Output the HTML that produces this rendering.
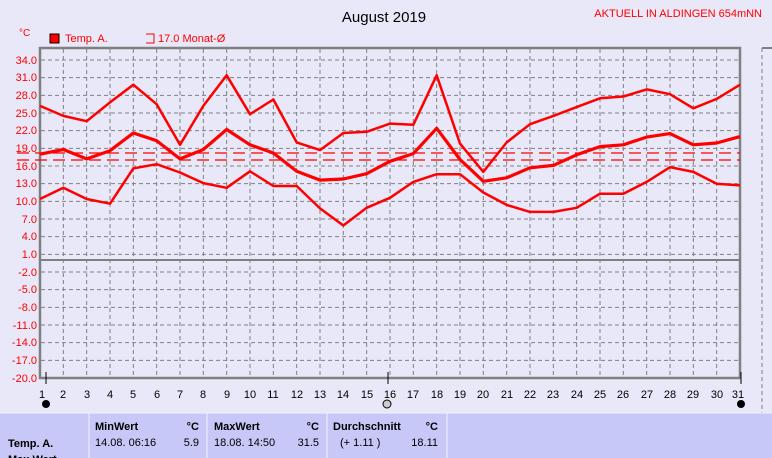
<!DOCTYPE html>
<html><head><meta charset="utf-8"><style>
body{margin:0;width:772px;height:458px;overflow:hidden;background:#e8e8f8;font-family:"Liberation Sans",sans-serif}
svg{position:absolute;left:0;top:0}
</style></head><body>
<svg id="s" width="772" height="458" xmlns="http://www.w3.org/2000/svg" font-family="Liberation Sans, sans-serif">
<rect width="772" height="458" fill="#e8e8f8"/>
<g id="grid" stroke="#808080" stroke-dasharray="4,3" stroke-width="1"></g>
<rect x="40" y="48" width="700" height="330" fill="none" stroke="#808080" stroke-width="2.5"/>
<line x1="40" y1="260" x2="740" y2="260" stroke="#808080" stroke-width="2"/>
<line x1="17" y1="153" x2="740" y2="153" stroke="#f00" stroke-dasharray="12,6" stroke-width="1.2"/>
<line x1="17" y1="160" x2="740" y2="160" stroke="#f00" stroke-dasharray="12,6" stroke-width="1.2"/>
<g id="lines" fill="none" stroke="#f00" stroke-width="2.5" stroke-linejoin="round"></g>
<text x="384" y="22" font-size="15" text-anchor="middle" fill="#000">August 2019</text>
<text x="762" y="17" font-size="11" text-anchor="end" fill="#f00">AKTUELL IN ALDINGEN 654mNN</text>
<text x="19" y="36" font-size="10" fill="#f00">°C</text>
<rect x="50" y="34" width="9" height="9" fill="#f00" stroke="#000"/>
<text x="65" y="42" font-size="11" fill="#f00">Temp. A.</text>
<path d="M146 34 H154 V43 H146" fill="none" stroke="#f00"/>
<text x="158" y="42" font-size="11" fill="#f00">17.0 Monat-Ø</text>
<g font-size="11" fill="#f00" text-anchor="end">
<text x="37" y="64">34.0</text><text x="37" y="81">31.0</text><text x="37" y="99">28.0</text><text x="37" y="117">25.0</text><text x="37" y="134">22.0</text><text x="37" y="152">19.0</text><text x="37" y="170">16.0</text><text x="37" y="187">13.0</text><text x="37" y="205">10.0</text><text x="37" y="223">7.0</text><text x="37" y="240">4.0</text><text x="37" y="258">1.0</text><text x="37" y="276">-2.0</text><text x="37" y="293">-5.0</text><text x="37" y="311">-8.0</text><text x="37" y="329">-11.0</text><text x="37" y="346">-14.0</text><text x="37" y="364">-17.0</text><text x="37" y="382">-20.0</text>
</g>
<g font-size="11" fill="#000" text-anchor="middle">
<text x="42" y="398">1</text><text x="63" y="398">2</text><text x="87" y="398">3</text><text x="110" y="398">4</text><text x="133" y="398">5</text><text x="157" y="398">6</text><text x="180" y="398">7</text><text x="203" y="398">8</text><text x="227" y="398">9</text><text x="250" y="398">10</text><text x="273" y="398">11</text><text x="297" y="398">12</text><text x="320" y="398">13</text><text x="343" y="398">14</text><text x="367" y="398">15</text><text x="390" y="398">16</text><text x="413" y="398">17</text><text x="437" y="398">18</text><text x="460" y="398">19</text><text x="483" y="398">20</text><text x="507" y="398">21</text><text x="530" y="398">22</text><text x="553" y="398">23</text><text x="577" y="398">24</text><text x="600" y="398">25</text><text x="623" y="398">26</text><text x="647" y="398">27</text><text x="670" y="398">28</text><text x="693" y="398">29</text><text x="717" y="398">30</text><text x="738" y="398">31</text>
</g>
<line x1="46" y1="372" x2="46" y2="384" stroke="#000"/>
<line x1="388" y1="372" x2="388" y2="384" stroke="#000"/>
<line x1="741" y1="372" x2="741" y2="384" stroke="#000"/>
<circle cx="46" cy="404" r="4" fill="#000"/>
<circle cx="387" cy="404" r="4" fill="#ccc" stroke="#000"/>
<circle cx="741" cy="404" r="4" fill="#000"/>
<line x1="762" y1="48" x2="772" y2="48" stroke="#808080" stroke-width="2"/>
<line x1="762" y1="48" x2="762" y2="458" stroke="#808080" stroke-dasharray="4,3"/>
<rect x="0" y="413" width="772" height="45" fill="#c8c8f8"/>
<g stroke="#f0f0ff" stroke-width="1"><line x1="89" y1="413" x2="89" y2="458"/><line x1="207" y1="413" x2="207" y2="458"/><line x1="327" y1="413" x2="327" y2="458"/><line x1="447" y1="413" x2="447" y2="458"/><line x1="0" y1="413" x2="772" y2="413"/></g>
<g font-size="11" fill="#000">
<text x="8" y="447" font-weight="bold">Temp. A.</text>
<text x="8" y="463" font-weight="bold">Max Wert</text>
<text x="95" y="430" font-weight="bold">MinWert</text><text x="199" y="430" text-anchor="end" font-weight="bold">°C</text>
<text x="95" y="446">14.08.  06:16</text><text x="199" y="446" text-anchor="end">5.9</text>
<text x="214" y="430" font-weight="bold">MaxWert</text><text x="319" y="430" text-anchor="end" font-weight="bold">°C</text>
<text x="214" y="446">18.08.  14:50</text><text x="319" y="446" text-anchor="end">31.5</text>
<text x="333" y="430" font-weight="bold">Durchschnitt</text><text x="438" y="430" text-anchor="end" font-weight="bold">°C</text>
<text x="340" y="446">(+ 1.11 )</text><text x="438" y="446" text-anchor="end">18.11</text>
</g>
</svg>
<script>
var ns="http://www.w3.org/2000/svg";
function el(p,n,a){var e=document.createElementNS(ns,n);for(var k in a)e.setAttribute(k,a[k]);p.appendChild(e);}
var g=document.getElementById('grid');
for(var i=1;i<30;i++){var x=40+i*700/30;el(g,'line',{x1:x,y1:49,x2:x,y2:377});}
for(var j=0;j<19;j++){var y=60+j*17.667;el(g,'line',{x1:41,y1:y,x2:739,y2:y});}
function Y(v){return 60+(34-v)*5.889;}
var D=[[26.2,24.5,23.6,26.8,29.8,26.5,19.6,26.2,31.4,24.8,27.3,20,18.7,21.6,21.8,23.2,23,31.4,19.8,15,20,23.1,24.5,26,27.5,27.8,29,28.2,25.8,27.4,29.8],
[18,18.8,17.2,18.6,21.6,20.3,17.2,18.8,22.2,19.6,18.2,15.1,13.6,13.8,14.7,16.8,18.1,22.4,17.1,13.4,14,15.7,16.1,17.9,19.3,19.6,20.9,21.5,19.6,19.9,21],
[10.4,12.3,10.4,9.6,15.6,16.3,14.9,13.1,12.3,15.1,12.6,12.6,8.8,5.9,8.9,10.6,13.3,14.6,14.6,11.5,9.4,8.2,8.2,8.9,11.3,11.3,13.3,15.8,15,13,12.7]];
var L=document.getElementById('lines');
D.forEach(function(d,k){el(L,'polyline',{points:d.map(function(v,i){return (40+i*700/30)+','+Y(v).toFixed(1)}).join(' '),'stroke-width':k==1?3.2:2.5});});
</script>
</body></html>
